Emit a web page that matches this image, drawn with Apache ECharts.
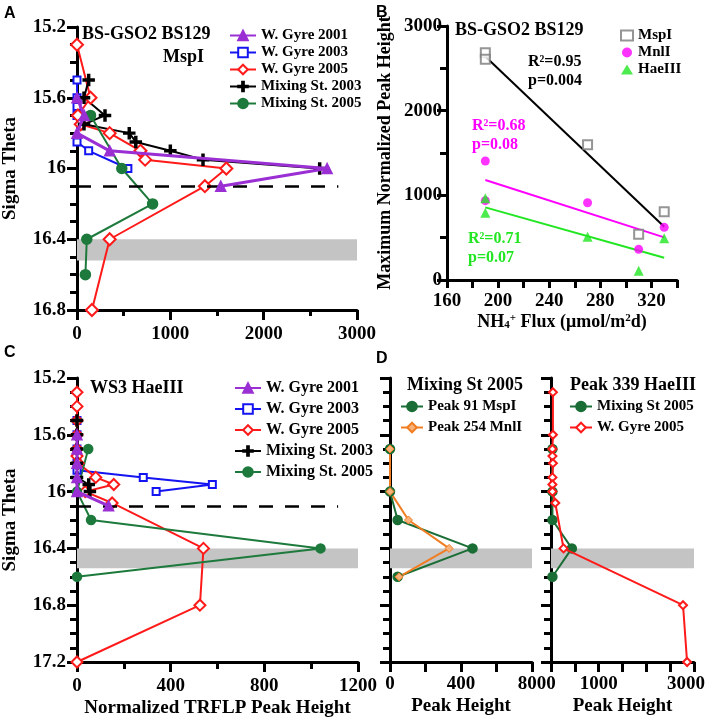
<!DOCTYPE html>
<html><head><meta charset="utf-8">
<script src="https://cdn.jsdelivr.net/npm/echarts@6/dist/echarts.min.js"></script>
<style>html,body{margin:0;padding:0;background:#fff}#wrap{position:relative;width:709px;height:721px}.layer{position:absolute;left:0;top:0;width:709px;height:721px}</style>
</head><body><div id="wrap"></div><script>
// ---------- Panel A (BS-GSO2 BS129, MspI) ----------
const sigA_WG01 = [15.6, 15.7, 15.8, 15.9, 16.0, 16.1];
const valA_WG01 = [0, 77, 0, 350, 2680, 1540];
const sigA_WG03 = [15.5, 15.6, 15.65, 15.7, 15.85, 15.9, 16.0];
const valA_WG03 = [0, 0, 0, 0, 0, 125, 545];
const sigA_WG05 = [15.3, 15.6, 15.7, 15.75, 15.8, 15.9, 15.95, 16.0, 16.1, 16.4, 16.8];
const valA_WG05 = [0, 145, 10, 40, 350, 680, 730, 1600, 1370, 350, 160];
const sigA_MS03 = [15.5, 15.6, 15.7, 15.75, 15.8, 15.85, 15.9, 15.95, 16.0];
const valA_MS03 = [125, 75, 300, 75, 560, 630, 1000, 1350, 2600];
const sigA_MS05 = [15.7, 16.0, 16.2, 16.4, 16.6];
const valA_MS05 = [145, 480, 810, 105, 90];
const dashA = {sigma: 16.1, from: 0, to: 2800};
const bandA = {from: 16.4, to: 16.52, xmax: 3000};

// ---------- Panel B ----------
const fluxB = [190, 190, 270, 310, 330];
const mspB = [2685, 2606, 1598, 540, 807];
const mnlB = [1406, 937, 913, 362, 622];
const haeB = [965, 795, 512, 110, 492];
const fitFluxB = [190, 330];
const mspFitB = [2640, 630];
const mnlFitB = [1181, 504];
const haeFitB = [858, 262];

// ---------- Panel C (WS3 HaeIII) ----------
const sigC_WG01 = [15.6, 15.7, 15.8, 15.9, 16.0, 16.1];
const valC_WG01 = [0, 0, 0, 0, 0, 135];
const sigC_WG03 = [15.5, 15.6, 15.7, 15.8, 15.85, 15.9, 15.95, 16.0];
const valC_WG03 = [0, 0, 0, 0, 0, 283, 578, 338];
const sigC_WG05 = [15.3, 15.4, 15.5, 15.6, 15.7, 15.75, 15.8, 15.9, 15.95, 16.0, 16.08, 16.4, 16.8, 17.2];
const valC_WG05 = [0, 0, 0, 0, 0, 0, 5, 80, 157, 35, 150, 540, 525, 0];
const sigC_MS03 = [15.5, 15.6, 15.7, 15.8, 15.9, 15.95, 16.0];
const valC_MS03 = [0, 0, 0, 0, 0, 50, 55];
const sigC_MS05 = [15.7, 16.0, 16.2, 16.4, 16.6];
const valC_MS05 = [48, 0, 60, 1040, 0];
const dashC = {sigma: 16.1, from: 0, to: 1115};
const bandC = {from: 16.4, to: 16.54, xmax: 1200};

// ---------- Panel D ----------
const sigD1 = [15.7, 16.0, 16.2, 16.4, 16.6];
const valD1_P91 = [0, 0, 43, 465, 43];
const valD1_P254 = [0, 0, 104, 333, 51];
const sigD2_MS05 = [15.7, 16.0, 16.2, 16.4, 16.6];
const valD2_MS05 = [30, 30, 30, 437, 30];
const sigD2_WG05 = [15.3, 15.6, 15.7, 15.75, 15.8, 15.9, 15.95, 16.0, 16.08, 16.4, 16.8, 17.2];
const valD2_WG05 = [40, 40, 30, 30, 40, 30, 30, 30, 90, 263, 2770, 2855];
const bandD = {from: 16.4, to: 16.54};

// ---------- tick labels ----------
const xTicksB = [160, 200, 240, 280, 320];
const xTicksD2 = [0, 1000, 3000];

const FONT = 'Liberation Serif';
const T = (size, color) => ({fontFamily: FONT, fontWeight: 'bold', fontSize: size, color: color || '#000'});
const SANS = {fontFamily: 'Liberation Sans', fontWeight: 'bold', fontSize: 16, color: '#000'};
const zip = (xs, ys) => xs.map((x, i) => [x, ys[i]]);
const BLACK = '#000';
const PLUS = 'path://M4.1,0H5.9V4.1H10V5.9H5.9V10H4.1V5.9H0V4.1H4.1Z';
const C_PURPLE = '#9a2fd4', C_BLUE = '#1414f2', C_RED = '#ff1a1a', C_GREEN = '#1d7a3c';
const intFmt = v => String(Math.round(v));
const sigFmt = v => String(+(+v).toFixed(1));

function lab(o) { return Object.assign({hideOverlap: false, showMinLabel: true, showMaxLabel: true, formatter: intFmt}, T(19), o); }
function axisCommon(o) {
  return Object.assign({
    type: 'value', gridIndex: 0,
    splitLine: {show: false},
    axisLine: {show: true, onZero: false, lineStyle: {color: BLACK, width: 3}},
    axisTick: {show: true, length: 10, lineStyle: {color: BLACK, width: 3}},
    minorTick: {show: false},
    axisLabel: lab({margin: 14})
  }, o);
}
function yProfile(min, max, showLabels, name) {
  const o = {
    inverse: true, min: min, max: max, interval: 0.4,
    minorTick: {show: true, splitNumber: 4, length: 7, lineStyle: {color: BLACK, width: 3}},
    axisLabel: lab({show: showLabels, margin: 11, formatter: sigFmt})
  };
  if (name) Object.assign(o, {name: name, nameLocation: 'middle', nameGap: 57, nameTextStyle: T(19)});
  return axisCommon(o);
}
function prof(name, vals, sig, st) {
  return {
    type: 'line', name: name, data: zip(vals, sig),
    symbol: st.symbol, symbolSize: st.size, showSymbol: true,
    lineStyle: {color: st.color, width: st.width || 2},
    itemStyle: {color: st.fill || st.color, borderColor: st.color, borderWidth: st.bw || 1.5},
    z: st.z || 3
  };
}
const S_WG01 = {symbol: 'triangle', size: 10, color: C_PURPLE, width: 3, z: 6};
const S_WG03 = {symbol: 'emptyRect', size: 7, color: C_BLUE};
const S_WG05 = {symbol: 'emptyDiamond', size: 12, color: C_RED};
const S_MS03 = {symbol: PLUS, size: 11, color: BLACK};
const S_MS05 = {symbol: 'circle', size: 10, color: C_GREEN};
function decor(dash, band, xmax) {
  const o = {};
  o.markArea = {silent: true, itemStyle: {color: '#c4c4c4'}, data: [[{coord: [0, band.from]}, {coord: [xmax, band.to]}]]};
  if (dash) o.markLine = {silent: true, symbol: 'none', label: {show: false},
    lineStyle: {color: BLACK, width: 2.5, type: [14, 12]},
    data: [[{coord: [dash.from, dash.sigma]}, {coord: [dash.to, dash.sigma]}]]};
  return o;
}
const legBase = {orient: 'vertical', padding: 0, itemWidth: 26, itemHeight: 12, textStyle: T(15), selectedMode: false};
const ttl = (text, left, top, style) => ({text: text, left: left, top: top, padding: 0, textStyle: style});
const profNames = ['W. Gyre 2001', 'W. Gyre 2003', 'W. Gyre 2005', 'Mixing St. 2003', 'Mixing St. 2005'];

const panels = [
  { // A
    grid: {left: 74, top: 27, width: 283, height: 283},
    xAxis: axisCommon({min: 0, max: 3000, interval: 1000,
      minorTick: {show: true, splitNumber: 2, length: 6, lineStyle: {color: BLACK, width: 3}},
      axisLabel: lab({margin: 15})}),
    yAxis: yProfile(15.2, 16.8, true, 'Sigma Theta'),
    legend: Object.assign({}, legBase, {left: 229, top: 28, itemGap: 2, data: profNames}),
    title: [ttl('A', 4, 6, SANS), ttl('BS-GSO2 BS129', 82, 25, T(18)), ttl('MspI', 163, 48, T(18))],
    series: [
      Object.assign(prof('W. Gyre 2001', valA_WG01, sigA_WG01, S_WG01), decor(dashA, bandA, bandA.xmax)),
      prof('W. Gyre 2003', valA_WG03, sigA_WG03, S_WG03),
      prof('W. Gyre 2005', valA_WG05, sigA_WG05, S_WG05),
      prof('Mixing St. 2003', valA_MS03, sigA_MS03, S_MS03),
      prof('Mixing St. 2005', valA_MS05, sigA_MS05, S_MS05)
    ]
  },
  { // B
    grid: {left: 447, top: 26, width: 230, height: 254},
    xAxis: axisCommon({min: 160, max: 340, interval: 20,
      axisTick: {show: true, length: 8, lineStyle: {color: BLACK, width: 3}},
      axisLabel: lab({margin: 12, formatter: v => xTicksB.includes(Math.round(v)) ? String(Math.round(v)) : ''}),
      name: '{n|NH}{sub|4}{sup|+}{n| Flux (μmol/m}{sup|2}{n|d)}', nameLocation: 'middle', nameGap: 33,
      nameTextStyle: Object.assign({rich: {
        n: T(18), sub: Object.assign({verticalAlign: 'bottom', padding: [6, 0, 0, 0]}, T(11)),
        sup: Object.assign({verticalAlign: 'top', padding: [0, 0, 6, 0]}, T(11))}}, T(18))}),
    yAxis: axisCommon({min: 0, max: 3000, interval: 1000,
      minorTick: {show: true, splitNumber: 2, length: 7, lineStyle: {color: BLACK, width: 3}},
      axisLabel: lab({margin: 5}),
      name: 'Maximum Normalized Peak Height', nameLocation: 'middle', nameGap: 53, nameTextStyle: T(18)}),
    legend: Object.assign({}, legBase, {left: 620, top: 28, itemGap: 2, itemWidth: 12, itemHeight: 10, data: ['MspI', 'MnlI', 'HaeIII']}),
    title: [ttl('B', 376, 5, SANS), ttl('BS-GSO2 BS129', 455, 21, T(18)),
      ttl('R²=0.95', 528, 54, T(16)), ttl('p=0.004', 528, 73, T(16)),
      ttl('R²=0.68', 472, 118, T(16, '#ff00ff')), ttl('p=0.08', 472, 137, T(16, '#ff00ff')),
      ttl('R²=0.71', 468, 231, T(16, '#22e622')), ttl('p=0.07', 468, 250, T(16, '#22e622'))],
    series: [
      {type: 'line', data: zip(fitFluxB, mspFitB), symbol: 'none', lineStyle: {color: BLACK, width: 2}},
      {type: 'line', data: zip(fitFluxB, mnlFitB), symbol: 'none', lineStyle: {color: '#ff00ff', width: 2}},
      {type: 'line', data: zip(fitFluxB, haeFitB), symbol: 'none', lineStyle: {color: '#22e622', width: 2}},
      {type: 'scatter', name: 'MspI', data: zip(fluxB, mspB), symbol: 'emptyRect', symbolSize: 9, itemStyle: {color: '#7a7a7a', borderWidth: 1.2}, z: 4},
      {type: 'scatter', name: 'MnlI', data: zip(fluxB, mnlB), symbol: 'circle', symbolSize: 9, itemStyle: {color: '#ff00ff'}, z: 4},
      {type: 'scatter', name: 'HaeIII', data: zip(fluxB, haeB), symbol: 'triangle', symbolSize: 10, itemStyle: {color: '#22e622'}, z: 4}
    ]
  },
  { // C
    grid: {left: 74, top: 378, width: 284, height: 284},
    xAxis: axisCommon({min: 0, max: 1200, interval: 400,
      minorTick: {show: true, splitNumber: 2, length: 7, lineStyle: {color: BLACK, width: 3}},
      axisLabel: lab({margin: 15}),
      name: 'Normalized TRFLP Peak Height', nameLocation: 'middle', nameGap: 37, nameTextStyle: T(19)}),
    yAxis: yProfile(15.2, 17.2, true, 'Sigma Theta'),
    legend: Object.assign({}, legBase, {left: 234, top: 380, itemGap: 5, textStyle: T(16), data: profNames}),
    title: [ttl('C', 4, 345, SANS), ttl('WS3 HaeIII', 90, 379, T(18))],
    series: [
      Object.assign(prof('W. Gyre 2001', valC_WG01, sigC_WG01, S_WG01), decor(dashC, bandC, bandC.xmax)),
      prof('W. Gyre 2003', valC_WG03, sigC_WG03, S_WG03),
      prof('W. Gyre 2005', valC_WG05, sigC_WG05, Object.assign({}, S_WG05, {size: 11})),
      prof('Mixing St. 2003', valC_MS03, sigC_MS03, S_MS03),
      prof('Mixing St. 2005', valC_MS05, sigC_MS05, Object.assign({}, S_MS05, {size: 9}))
    ]
  },
  { // D left
    grid: {left: 390, top: 378, width: 142, height: 284},
    xAxis: axisCommon({min: 0, max: 800, interval: 400,
      minorTick: {show: true, splitNumber: 2, length: 10, lineStyle: {color: BLACK, width: 3}},
      axisLabel: lab({margin: 13}),
      name: 'Peak Height', nameLocation: 'middle', nameGap: 35, nameTextStyle: T(19)}),
    yAxis: yProfile(15.2, 17.2, false),
    legend: Object.assign({}, legBase, {left: 400, top: 399, itemGap: 6, itemWidth: 22, data: ['Peak 91 MspI', 'Peak 254 MnlI']}),
    title: [ttl('D', 376, 351, SANS), ttl('Mixing St 2005', 407, 376, T(18))],
    series: [
      Object.assign(prof('Peak 91 MspI', valD1_P91, sigD1, {symbol: 'circle', size: 9, color: '#1a6e35'}), decor(null, bandD, 800)),
      prof('Peak 254 MnlI', valD1_P254, sigD1, {symbol: 'diamond', size: 8, color: '#f07d22', fill: '#f8b27a', bw: 1})
    ]
  },
  { // D right
    grid: {left: 551, top: 378, width: 143, height: 284},
    xAxis: axisCommon({min: 0, max: 3000, interval: 500,
      axisLabel: lab({margin: 13,
        formatter: v => { const r = Math.round(v); return r === 3000 ? '{r|3000}' : (xTicksD2.includes(r) ? String(r) : ''); },
        rich: {r: Object.assign({padding: [0, 16, 0, 0]}, T(19))}}),
      name: 'Peak Height', nameLocation: 'middle', nameGap: 35, nameTextStyle: T(19)}),
    yAxis: yProfile(15.2, 17.2, false),
    legend: Object.assign({}, legBase, {left: 569, top: 399, itemGap: 6, itemWidth: 22, data: ['Mixing St 2005', 'W. Gyre 2005']}),
    title: [ttl('Peak 339 HaeIII', 570, 376, T(18))],
    series: [
      Object.assign(prof('Mixing St 2005', valD2_MS05, sigD2_MS05, {symbol: 'circle', size: 9, color: '#1a6e35'}), decor(null, bandD, 3000)),
      prof('W. Gyre 2005', valD2_WG05, sigD2_WG05, {symbol: 'emptyDiamond', size: 8, color: C_RED, z: 4})
    ]
  }
];

// Count the axis lines ECharts actually drew (long black 3px lines).
function axisLinesDrawn(chart) {
  try {
    const list = chart.getZr().storage.getDisplayList(true);
    return list.filter(el => el.type === 'line' && el.style && el.style.lineWidth >= 3 && el.shape &&
      Math.hypot(el.shape.x2 - el.shape.x1, el.shape.y2 - el.shape.y1) > 100).length;
  } catch (e) { return 0; }
}
// Fallback: draw axis lines and ticks through the chart's own scales.
function drawAxesThroughScales(chart, opt) {
  const xa = opt.xAxis, ya = opt.yAxis;
  const px = (x, y) => chart.convertToPixel({gridIndex: 0}, [x, y]);
  const yBottom = ya.inverse ? ya.max : ya.min;
  const els = [];
  const line = (x1, y1, x2, y2) => els.push({type: 'line', silent: true, z: 5,
    shape: {x1: x1, y1: y1, x2: x2, y2: y2}, style: {stroke: BLACK, lineWidth: 3}});
  const valsFor = (ax) => {
    const major = [], minor = [];
    const n = Math.round((ax.max - ax.min) / ax.interval);
    for (let k = 0; k <= n; k++) major.push(ax.min + k * ax.interval);
    if (ax.minorTick && ax.minorTick.show) {
      const s = ax.minorTick.splitNumber;
      for (let k = 0; k < n; k++) for (let j = 1; j < s; j++) minor.push(ax.min + k * ax.interval + j * ax.interval / s);
    }
    return {major: major, minor: minor};
  };
  // x axis
  const a0 = px(xa.min, yBottom), a1 = px(xa.max, yBottom);
  line(a0[0] - 1.5, a0[1], a1[0], a1[1]);
  const xv = valsFor(xa);
  xv.major.forEach(v => { const p = px(v, yBottom); line(p[0], p[1], p[0], p[1] + xa.axisTick.length); });
  xv.minor.forEach(v => { const p = px(v, yBottom); line(p[0], p[1], p[0], p[1] + xa.minorTick.length); });
  // y axis
  const b0 = px(xa.min, ya.min), b1 = px(xa.min, ya.max);
  line(b0[0], b0[1], b1[0], b1[1]);
  const yv = valsFor(ya);
  yv.major.forEach(v => { const p = px(xa.min, v); line(p[0], p[1], p[0] - ya.axisTick.length, p[1]); });
  yv.minor.forEach(v => { const p = px(xa.min, v); line(p[0], p[1], p[0] - ya.minorTick.length, p[1]); });
  chart.setOption({graphic: {elements: els}});
}

const wrap = document.getElementById('wrap');
panels.forEach(p => {
  const div = document.createElement('div');
  div.className = 'layer';
  wrap.appendChild(div);
  const chart = echarts.init(div, null, {renderer: 'canvas'});
  const opt = Object.assign({animation: false}, p);
  chart.setOption(opt);
  if (axisLinesDrawn(chart) < 2) drawAxesThroughScales(chart, opt);
});
</script></body></html>
